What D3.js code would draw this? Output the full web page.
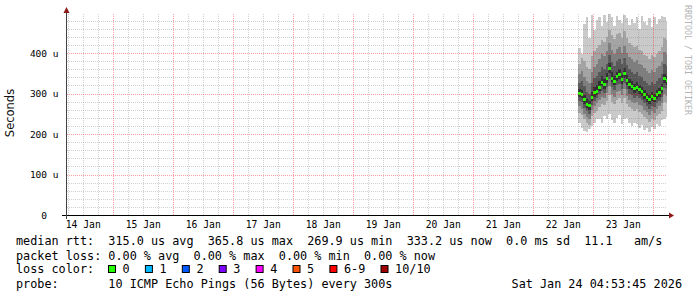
<!DOCTYPE html>
<html><head><meta charset="utf-8">
<script src="https://cdn.jsdelivr.net/npm/d3@7"></script>
<style>
html,body{margin:0;padding:0;background:#fff;}
svg{display:block;}
text{font-family:"DejaVu Sans Mono",monospace;white-space:pre;}
</style></head><body>
<svg id="c" width="697" height="297" xml:space="preserve"></svg>
<script>
// ---------- data ----------
const yTicks = [0, 100, 200, 300, 400];
const yTickLabels = ["0  ", "100 u", "200 u", "300 u", "400 u"];
const dayTicks = ["2026-01-14","2026-01-15","2026-01-16","2026-01-17","2026-01-18","2026-01-19","2026-01-20","2026-01-21","2026-01-22","2026-01-23"];
const dayLabels = ["14 Jan","15 Jan","16 Jan","17 Jan","18 Jan","19 Jan","20 Jan","21 Jan","22 Jan","23 Jan"];
const rangeStart = "2026-01-14T05:29:00Z";
const rangeEnd = "2026-01-24T05:29:00Z";
const dataStart = "2026-01-22T18:00:00Z"; // hourly samples
// sorted ping rtts (microseconds), ping1 = fastest ... ping10 = slowest
const ping1  = [228,214,208,204,212,220,226,236,238,228,244,236,250,234,226,240,246,224,236,240,226,220,228,224,216,222,210,214,206,218,212,224,220,234,238,242];
const ping2  = [252,246,236,226,222,244,252,258,266,274,272,282,296,280,274,284,288,276,290,274,266,262,258,262,254,250,242,236,230,238,234,244,250,258,278,276];
const ping3  = [268,262,250,242,238,260,268,276,284,292,290,302,318,300,292,304,306,296,310,294,284,280,276,280,272,268,260,254,248,256,252,262,268,276,298,294];
const ping4  = [282,278,264,256,250,272,282,288,298,306,302,316,336,316,308,320,324,312,326,310,300,296,290,294,288,284,276,268,262,270,266,276,282,292,314,310];
const ping5  = [292,288,275,265,260,282,292,296,306,318,312,326,350,328,320,330,336,324,338,322,312,308,302,306,298,294,286,280,274,282,278,286,292,302,326,322];
const ping6  = [310,308,296,286,282,304,316,320,330,342,336,350,376,352,344,354,360,346,362,346,336,330,324,328,320,316,308,302,296,304,300,308,314,324,348,344];
const ping7  = [326,330,318,304,300,326,338,344,354,366,360,374,396,378,368,380,384,372,388,370,360,354,348,352,344,340,332,326,320,328,324,332,338,348,372,368];
const ping8  = [348,356,340,330,326,352,366,372,384,398,392,404,424,408,398,410,414,400,418,400,390,386,378,382,374,370,362,356,350,358,354,362,368,378,402,398];
const ping9  = [372,388,380,366,360,392,404,412,420,432,426,440,458,444,434,448,450,436,454,436,424,420,414,418,408,404,396,392,386,394,390,398,404,414,436,432];
const ping10 = [412,398,472,488,438,494,458,482,490,466,494,476,496,488,466,492,482,474,494,486,468,484,474,490,460,492,476,468,486,464,490,472,484,492,488,478];
const median = [300,298,284,274,270,291,302,306,316,328,322,336,362,338,330,341,346,334,349,332,322,318,312,316,309,305,297,290,284,292,288,297,303,313,336,333];

const lossLabels = ["0","1","2","3","4","5","6-9","10/10"];
const lossColors = ["#26ff00","#00b8ff","#0059ff","#7e00ff","#ff00ff","#ff5500","#ff0000","#a00000"];
const smokeColors = ["#cacaca","#a4a4a4","#7e7e7e","#585858","#323232"];

const legendRtt  = "median rtt:  315.0 us avg  365.8 us max  269.9 us min  333.2 us now  0.0 ms sd  11.1   am/s";
const legendLoss = "packet loss: 0.00 % avg  0.00 % max  0.00 % min  0.00 % now";
const legendColorTitle = "loss color:";
const legendProbe = "probe:       10 ICMP Echo Pings (56 Bytes) every 300s";
const stamp = "Sat Jan 24 04:53:45 2026";
const yTitle = "Seconds";
const sideText = "RRDTOOL / TOBI OETIKER";

// ---------- drawing ----------
const svg = d3.select("#c");
const X0 = 67, X1 = 667, Y0 = 215, YT = 12.5;
const x = d3.scaleUtc().domain([new Date(rangeStart), new Date(rangeEnd)]).range([X0, X1]);
const y = d3.scaleLinear().domain([0, 500]).range([Y0, YT]);

svg.append("rect").attr("width",697).attr("height",297).attr("fill","#fff");

const defs = svg.append("defs");
defs.append("clipPath").attr("id","plot").append("rect")
  .attr("x",X0).attr("y",YT).attr("width",X1-X0).attr("height",Y0-YT);

const pings = [ping1,ping2,ping3,ping4,ping5,ping6,ping7,ping8,ping9,ping10];
const t0 = new Date(dataStart);
const times = median.map((_, i) => d3.utcHour.offset(t0, i));
const g = svg.append("g").attr("clip-path","url(#plot)");
for (let b = 0; b < 5; b++) {
  const lo = pings[b], hi = pings[9-b];
  g.selectAll(null).data(times).enter().append("rect")
    .attr("x", d => x(d))
    .attr("width", d => x(d3.utcHour.offset(d,1)) - x(d))
    .attr("y", (d,i) => y(hi[i]))
    .attr("height", (d,i) => y(lo[i]) - y(hi[i]))
    .attr("fill", smokeColors[b]).attr("shape-rendering","crispEdges");
}
g.selectAll(null).data(times).enter().append("rect")
  .attr("x", d => x(d))
  .attr("width", d => x(d3.utcHour.offset(d,1)) - x(d))
  .attr("y", (d,i) => y(median[i]) - 1.5)
  .attr("height", 3)
  .attr("fill", lossColors[0]).attr("shape-rendering","crispEdges");

// grid (drawn over graph like rrdtool)
const grid = svg.append("g").attr("shape-rendering","crispEdges").attr("stroke-width",1).attr("stroke-dasharray","1,1");
const minorT = d3.utcHour.every(6).range(new Date(rangeStart), new Date(rangeEnd));
const majorT = d3.utcDay.range(new Date(rangeStart), new Date(rangeEnd));
grid.selectAll(null).data(minorT.filter(t => t.getUTCHours() !== 0)).enter().append("line")
  .attr("x1", d => Math.round(x(d))+0.5).attr("x2", d => Math.round(x(d))+0.5)
  .attr("y1", Y0).attr("y2", YT).attr("stroke","rgba(128,128,128,0.37)");
const minorY = d3.range(20, 500, 20).filter(v => v % 100 !== 0);
grid.selectAll(null).data(minorY).enter().append("line")
  .attr("x1", X0).attr("x2", X1)
  .attr("y1", d => Math.round(y(d))+0.5).attr("y2", d => Math.round(y(d))+0.5)
  .attr("stroke","rgba(128,128,128,0.37)");
grid.selectAll(null).data(majorT).enter().append("line")
  .attr("x1", d => Math.round(x(d))+0.5).attr("x2", d => Math.round(x(d))+0.5)
  .attr("y1", Y0).attr("y2", YT).attr("stroke","rgba(255,0,0,0.37)");
grid.selectAll(null).data(yTicks.filter(v => v > 0)).enter().append("line")
  .attr("x1", X0).attr("x2", X1)
  .attr("y1", d => Math.round(y(d))+0.5).attr("y2", d => Math.round(y(d))+0.5)
  .attr("stroke","rgba(255,0,0,0.37)");

// axes
const ax = svg.append("g").attr("shape-rendering","crispEdges");
ax.append("line").attr("x1",62).attr("x2",669).attr("y1",Y0+0.5).attr("y2",Y0+0.5).attr("stroke","#000");
ax.append("line").attr("x1",X0-0.5).attr("x2",X0-0.5).attr("y1",Y0+4).attr("y2",10).attr("stroke","#444");
svg.append("path").attr("d",`M669,${Y0-2.5} L674,${Y0+0.5} L669,${Y0+3.5} Z`).attr("fill","#8b1a1a");
svg.append("path").attr("d",`M${X0-3.5},13 L${X0-0.5},7 L${X0+2.5},13 Z`).attr("fill","#8b1a1a");

// y labels
svg.selectAll(null).data(yTicks).enter().append("text")
  .attr("x", 58.5).attr("y", d => y(d) + 3.5).attr("text-anchor","end")
  .attr("font-size", 9.5).attr("fill","#000")
  .text((d,i) => yTickLabels[i]);
// x labels at noon
svg.selectAll(null).data(dayTicks).enter().append("text")
  .attr("x", d => x(new Date(d + "T12:00:00Z"))).attr("y", 228)
  .attr("text-anchor","middle").attr("font-size", 9.7).attr("fill","#000")
  .text((d,i) => dayLabels[i]);

// y title
svg.append("text").attr("transform","translate(14,113) rotate(-90)")
  .attr("text-anchor","middle").attr("font-size",11.5).attr("fill","#111")
  .style("font-family","'DejaVu Sans',sans-serif").text(yTitle);

// side text
svg.append("text").attr("transform","translate(684.5,5) rotate(90)")
  .attr("font-size",8.3).attr("fill","#b4b4b4").text(sideText);

// legend
const LF = 11.8;
svg.append("text").attr("x",16).attr("y",245).attr("font-size",LF).text(legendRtt);
svg.append("text").attr("x",16).attr("y",259.5).attr("font-size",LF).text(legendLoss);
svg.append("text").attr("x",16).attr("y",273).attr("font-size",LF).text(legendColorTitle);
let cur = 108;
lossLabels.forEach((lab, i) => {
  svg.append("rect").attr("x",cur+0.5).attr("y",265.5).attr("width",7).attr("height",7)
    .attr("fill",lossColors[i]).attr("stroke","#000").attr("stroke-width",1);
  svg.append("text").attr("x",cur+14.6).attr("y",273).attr("font-size",LF).text(lab);
  cur = cur + 14.6 + lab.length*7.1 + 15.2;
});
svg.append("text").attr("x",16).attr("y",288).attr("font-size",LF).text(legendProbe);
svg.append("text").attr("x",682).attr("y",288).attr("text-anchor","end").attr("font-size",LF).text(stamp);
</script>
</body></html>
